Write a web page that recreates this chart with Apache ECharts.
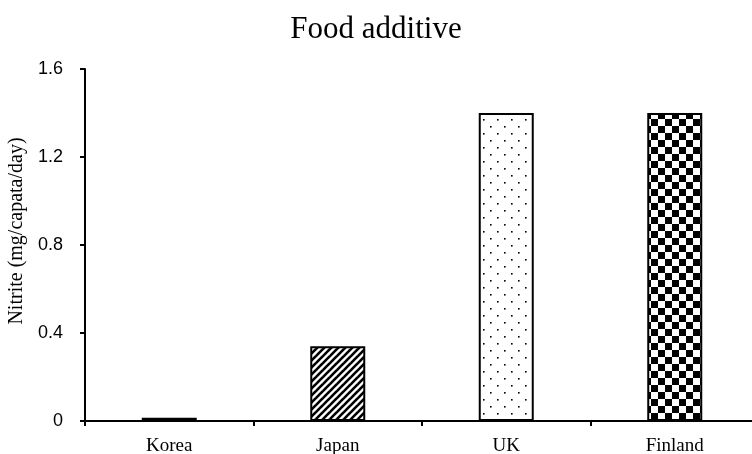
<!DOCTYPE html>
<html>
<head>
<meta charset="utf-8">
<script src="https://cdn.jsdelivr.net/npm/echarts@6/dist/echarts.min.js"></script>
<style>html,body{margin:0;padding:0;background:#fff;}#c{width:752px;height:454px;}</style>
</head>
<body>
<div id="c"></div>
<script>
const titleText = 'Food additive';
const yAxisName = 'Nitrite (mg/capata/day)';
const categories = ['Korea', 'Japan', 'UK', 'Finland'];
const values = [0.015, 0.34, 1.40, 1.40];
const yTicks = [0, 0.4, 0.8, 1.2, 1.6];

function mk(w, h, draw) {
  const c = document.createElement('canvas');
  c.width = w; c.height = h;
  const g = c.getContext('2d');
  g.fillStyle = '#fff'; g.fillRect(0, 0, w, h);
  g.fillStyle = '#000'; g.strokeStyle = '#000';
  draw(g);
  return c;
}
const stripes = mk(7, 7, g => {
  g.lineWidth = 2.6;
  for (let k = -1; k <= 1; k++) {
    g.beginPath(); g.moveTo(k * 7 - 1, 8); g.lineTo(k * 7 + 8, -1); g.stroke();
  }
});
const dots = mk(14, 14, g => {
  g.fillRect(0, 0, 1.6, 1.6);
  g.fillRect(7, 7, 1.6, 1.6);
});
const checker = mk(14, 14, g => {
  g.fillRect(0, 0, 7, 7);
  g.fillRect(7, 7, 7, 7);
});
const patterns = [
  '#000',
  { image: stripes, repeat: 'repeat' },
  { image: dots, repeat: 'repeat' },
  { image: checker, repeat: 'repeat' }
];

const chart = echarts.init(document.getElementById('c'), null, { renderer: 'canvas' });
chart.setOption({
  animation: false,
  backgroundColor: '#fff',
  title: {
    text: titleText, left: 'center', top: 9,
    textStyle: { fontFamily: 'Liberation Serif', fontSize: 31, fontWeight: 'normal', color: '#000' }
  },
  grid: { left: 85, right: -7, top: 69, bottom: 33, containLabel: false, outerBoundsMode: 'none' },
  xAxis: {
    type: 'category', data: categories,
    axisLine: { lineStyle: { color: '#000', width: 2 } },
    axisTick: { show: true, length: 5, lineStyle: { color: '#000', width: 2 } },
    axisLabel: { fontFamily: 'Liberation Serif', fontSize: 19, color: '#000', margin: 16 }
  },
  yAxis: {
    type: 'value', min: yTicks[0], max: yTicks[yTicks.length - 1], interval: 0.4,
    name: yAxisName, nameLocation: 'middle', nameGap: 58,
    nameTextStyle: { fontFamily: 'Liberation Serif', fontSize: 20, color: '#000', padding: [0, 0, 0, 28] },
    axisLine: { show: true, lineStyle: { color: '#000', width: 2 } },
    axisTick: { show: true, length: 5, lineStyle: { color: '#000', width: 2 } },
    axisLabel: {
      fontFamily: 'Liberation Sans', fontSize: 18, color: '#000', margin: 22,
      formatter: v => (v === 0 ? '0' : v.toFixed(1))
    },
    splitLine: { show: false }
  },
  series: [{
    type: 'bar', barWidth: 55,
    data: values.map((v, i) => ({
      value: v,
      itemStyle: { color: patterns[i], borderColor: '#000', borderWidth: 2 }
    }))
  }]
});
</script>
</body>
</html>
